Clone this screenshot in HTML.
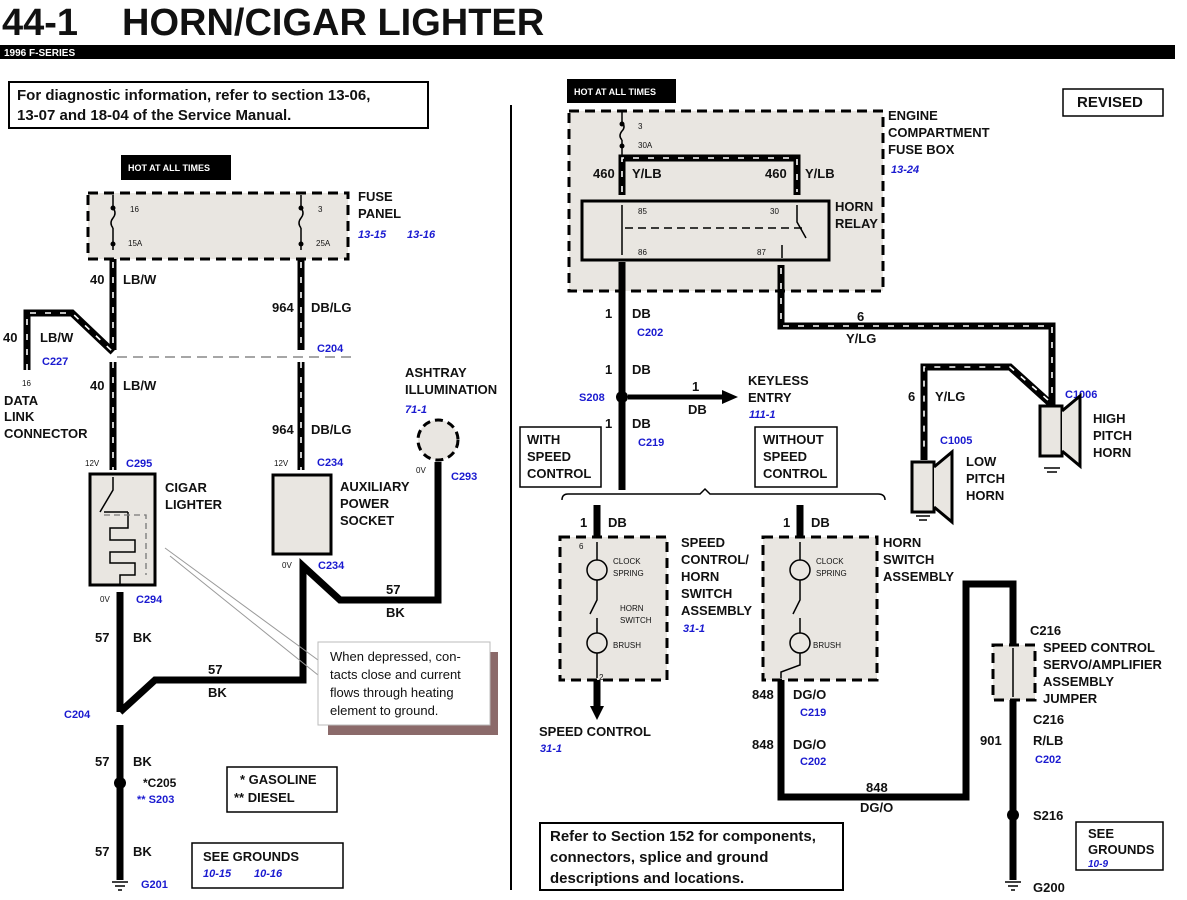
<!DOCTYPE html>
<html><head><meta charset="utf-8"><style>
body{margin:0;background:#fff}
svg{display:block}
text{font-family:"Liberation Sans",Arial,sans-serif;font-weight:bold;fill:#111}
.l{font-size:13px}
.s{font-size:8px;font-weight:normal}
.b{fill:#1a1ad0;font-style:italic;font-size:11px}
.c{fill:#1a1ad0;font-size:11px}
.w{stroke:#000;stroke-width:7;fill:none;stroke-linejoin:miter}
.st{stroke:#fff;stroke-width:1.6;fill:none;stroke-dasharray:6 9}
.box{fill:#e9e6e1;stroke:#000;stroke-width:3}
.dbox{fill:#e9e6e1;stroke:#000;stroke-width:3;stroke-dasharray:10 6}
.t{stroke:#000;stroke-width:1.5;fill:none}
.u{stroke:#999;stroke-width:1}
</style></head><body>
<svg width="1187" height="900" viewBox="0 0 1187 900" xmlns="http://www.w3.org/2000/svg">
<text x="2" y="35" style="font-size:38px">44-1</text>
<text x="122" y="35" style="font-size:38px">HORN/CIGAR LIGHTER</text>
<rect x="0" y="45" width="1175" height="14" fill="#000"/>
<text x="4" y="56" style="font-size:10px;fill:#fff">1996 F-SERIES</text>
<line x1="511" y1="105" x2="511" y2="890" stroke="#000" stroke-width="2"/>

<rect x="9" y="82" width="419" height="46" fill="#fff" stroke="#000" stroke-width="2"/>
<text x="17" y="100" style="font-size:15px">For diagnostic information, refer to section 13-06,</text>
<text x="17" y="120" style="font-size:15px">13-07 and 18-04 of the Service Manual.</text>

<rect x="121" y="155" width="110" height="25" fill="#000"/>
<text x="128" y="171" style="font-size:9px;fill:#fff">HOT AT ALL TIMES</text>
<rect x="88" y="193" width="260" height="66" class="dbox"/>
<path d="M113 195 V208 M113 228 V250 M301 195 V208 M301 228 V250" class="t"/>
<path d="M113 208 q4 5 0 10 q-4 5 0 10 M301 208 q4 5 0 10 q-4 5 0 10" class="t"/>
<circle cx="113" cy="208" r="2.5"/><circle cx="113" cy="244" r="2.5"/><circle cx="301" cy="208" r="2.5"/><circle cx="301" cy="244" r="2.5"/>
<text x="130" y="212" class="s">16</text><text x="128" y="246" class="s">15A</text>
<text x="318" y="212" class="s">3</text><text x="316" y="246" class="s">25A</text>
<text x="358" y="201" class="l">FUSE</text><text x="358" y="218" class="l">PANEL</text>
<text x="358" y="238" class="b">13-15</text><text x="407" y="238" class="b">13-16</text>

<path d="M113 259 V350 M113 362 V470 M301 259 V350 M301 362 V470" class="w"/>
<path d="M113 262 V350 M113 362 V470 M301 262 V350 M301 362 V470" class="st"/>
<path d="M27 370 V313 H72 L113 352" class="w"/>
<path d="M27 370 V313 H72 L113 352" class="st"/>
<line x1="117" y1="357" x2="355" y2="357" stroke="#888" stroke-width="1.5" stroke-dasharray="10 6"/>
<text x="90" y="284" class="l">40</text><text x="123" y="284" class="l">LB/W</text>
<text x="3" y="342" class="l">40</text><text x="40" y="342" class="l">LB/W</text><text x="42" y="365" class="c">C227</text>
<text x="22" y="386" class="s">16</text>
<text x="4" y="405" class="l">DATA</text><text x="4" y="421" class="l">LINK</text><text x="4" y="438" class="l">CONNECTOR</text>
<text x="90" y="390" class="l">40</text><text x="123" y="390" class="l">LB/W</text>
<text x="272" y="312" class="l">964</text><text x="311" y="312" class="l">DB/LG</text>
<text x="317" y="352" class="c">C204</text>
<text x="272" y="434" class="l">964</text><text x="311" y="434" class="l">DB/LG</text>
<text x="85" y="466" class="s">12V</text><text x="126" y="467" class="c">C295</text>
<text x="274" y="466" class="s">12V</text><text x="317" y="466" class="c">C234</text>

<rect x="90" y="474" width="65" height="111" class="box"/>
<path d="M113 477 V490 L100 512 M104 512 L128 512 M128 512 V528 H110 V540 H135 V552 H110 V563 H135 V575 H120 V585" class="t"/>
<path d="M104 515 H146 V575" stroke="#777" stroke-width="1.3" fill="none" stroke-dasharray="6 4"/>
<text x="165" y="492" class="l">CIGAR</text><text x="165" y="509" class="l">LIGHTER</text>
<rect x="273" y="475" width="58" height="79" class="box"/>
<text x="340" y="491" class="l">AUXILIARY</text><text x="340" y="508" class="l">POWER</text><text x="340" y="525" class="l">SOCKET</text>
<text x="405" y="377" class="l">ASHTRAY</text><text x="405" y="394" class="l">ILLUMINATION</text>
<text x="405" y="413" class="b">71-1</text>
<circle cx="438" cy="440" r="20" fill="#e9e6e1" stroke="#000" stroke-width="3" stroke-dasharray="8 5"/>
<text x="416" y="473" class="s">0V</text><text x="451" y="480" class="c">C293</text>
<text x="282" y="568" class="s">0V</text><text x="318" y="569" class="c">C234</text>
<text x="100" y="602" class="s">0V</text><text x="136" y="603" class="c">C294</text>

<path d="M438 462 V600 H340 L303 566 V680 H155 L120 712 M120 592 V712 M120 725 V880" class="w"/>
<circle cx="120" cy="783" r="6"/>
<text x="386" y="594" class="l">57</text><text x="386" y="617" class="l">BK</text>
<text x="95" y="642" class="l">57</text><text x="133" y="642" class="l">BK</text>
<text x="208" y="674" class="l">57</text><text x="208" y="697" class="l">BK</text>
<text x="64" y="718" class="c">C204</text>
<text x="95" y="766" class="l">57</text><text x="133" y="766" class="l">BK</text>
<text x="143" y="787" class="l" style="font-size:12px">*C205</text>
<text x="137" y="803" class="c">** S203</text>
<text x="95" y="856" class="l">57</text><text x="133" y="856" class="l">BK</text>
<path d="M112 882 H128 M115 886 H125 M118 890 H122" class="t"/>
<text x="141" y="888" class="c">G201</text>
<line x1="165" y1="548" x2="318" y2="660" class="u"/><line x1="170" y1="556" x2="318" y2="675" class="u"/>
<rect x="328" y="652" width="170" height="83" fill="#8b6a6a"/>
<rect x="318" y="642" width="172" height="83" fill="#fff" stroke="#bbb"/>
<text x="330" y="661" style="font-size:13px;font-weight:normal">When depressed, con-</text>
<text x="330" y="679" style="font-size:13px;font-weight:normal">tacts close and current</text>
<text x="330" y="697" style="font-size:13px;font-weight:normal">flows through heating</text>
<text x="330" y="715" style="font-size:13px;font-weight:normal">element to ground.</text>
<rect x="227" y="767" width="110" height="45" fill="#fff" stroke="#000" stroke-width="1.5"/>
<text x="240" y="784" class="l">*  GASOLINE</text><text x="234" y="802" class="l">**  DIESEL</text>
<rect x="192" y="843" width="151" height="45" fill="#fff" stroke="#000" stroke-width="1.5"/>
<text x="203" y="861" class="l">SEE GROUNDS</text>
<text x="203" y="877" class="b">10-15</text><text x="254" y="877" class="b">10-16</text>

<rect x="567" y="79" width="109" height="24" fill="#000"/>
<text x="574" y="95" style="font-size:9px;fill:#fff">HOT AT ALL TIMES</text>
<rect x="1063" y="89" width="100" height="27" fill="#fff" stroke="#000" stroke-width="1.5"/>
<text x="1077" y="107" class="l" style="font-size:15px">REVISED</text>
<rect x="569" y="111" width="314" height="180" class="dbox"/>
<path d="M622 112 V122 M622 140 V157" class="t"/><path d="M622 122 q4 5 0 9 q-4 5 0 9" class="t"/>
<circle cx="622" cy="124" r="2.5"/><circle cx="622" cy="146" r="2.5"/>
<text x="638" y="129" class="s">3</text><text x="638" y="148" class="s">30A</text>
<path d="M622 195 V158 H797 V195" class="w"/><path d="M622 192 V158 H797 V192" class="st"/>
<text x="593" y="178" class="l">460</text><text x="632" y="178" class="l">Y/LB</text>
<text x="765" y="178" class="l">460</text><text x="805" y="178" class="l">Y/LB</text>
<text x="888" y="120" class="l">ENGINE</text><text x="888" y="137" class="l">COMPARTMENT</text><text x="888" y="154" class="l">FUSE BOX</text>
<text x="891" y="173" class="b">13-24</text>
<rect x="582" y="201" width="247" height="59" class="box"/>
<path d="M622 205 V255 M797 205 V222 L806 238 M782 245 V258" class="t"/>
<line x1="625" y1="228" x2="806" y2="228" stroke="#000" stroke-width="1.5" stroke-dasharray="8 5"/>
<text x="638" y="214" class="s">85</text><text x="638" y="255" class="s">86</text>
<text x="770" y="214" class="s">30</text><text x="757" y="255" class="s">87</text>
<text x="835" y="211" class="l">HORN</text><text x="835" y="228" class="l">RELAY</text>

<path d="M622 262 V490" class="w"/>
<path d="M781 265 V326 H1052 V405 M1052 405 L1010 367 H924 V460" class="w"/>
<path d="M781 268 V326 H1052 V400 M1048 400 L1010 367 H924 V455" class="st"/>
<circle cx="622" cy="397" r="6"/>
<path d="M628 397 H725" stroke="#000" stroke-width="5"/><path d="M722 390 L738 397 L722 404Z"/>
<text x="605" y="318" class="l">1</text><text x="632" y="318" class="l">DB</text><text x="637" y="336" class="c">C202</text>
<text x="605" y="374" class="l">1</text><text x="632" y="374" class="l">DB</text>
<text x="579" y="401" class="c">S208</text>
<text x="692" y="391" class="l">1</text><text x="688" y="414" class="l">DB</text>
<text x="748" y="385" class="l">KEYLESS</text><text x="748" y="402" class="l">ENTRY</text><text x="749" y="418" class="b">111-1</text>
<text x="605" y="428" class="l">1</text><text x="632" y="428" class="l">DB</text><text x="638" y="446" class="c">C219</text>
<text x="857" y="321" class="l">6</text><text x="846" y="343" class="l">Y/LG</text>
<text x="908" y="401" class="l">6</text><text x="935" y="401" class="l">Y/LG</text>
<text x="1065" y="398" class="c">C1006</text><text x="940" y="444" class="c">C1005</text>
<rect x="1040" y="406" width="22" height="50" class="box"/><path d="M1062 411 L1080 396 V466 L1062 451" class="box"/>
<rect x="912" y="462" width="22" height="50" class="box"/><path d="M934 467 L952 452 V522 L934 507" class="box"/>
<path d="M1044 468 H1060 M1047 472 H1057 M916 516 H930 M919 520 H927" class="t"/>
<text x="1093" y="423" class="l">HIGH</text><text x="1093" y="440" class="l">PITCH</text><text x="1093" y="457" class="l">HORN</text>
<text x="966" y="466" class="l">LOW</text><text x="966" y="483" class="l">PITCH</text><text x="966" y="500" class="l">HORN</text>

<rect x="520" y="427" width="81" height="60" fill="#fff" stroke="#000" stroke-width="1.5"/>
<text x="527" y="444" class="l">WITH</text><text x="527" y="461" class="l">SPEED</text><text x="527" y="478" class="l">CONTROL</text>
<rect x="755" y="427" width="82" height="60" fill="#fff" stroke="#000" stroke-width="1.5"/>
<text x="763" y="444" class="l">WITHOUT</text><text x="763" y="461" class="l">SPEED</text><text x="763" y="478" class="l">CONTROL</text>
<path d="M562 500 Q562 494 568 494 H700 L705 489 L710 494 H878 Q885 494 885 500" class="t"/>

<path d="M597 505 V540 M800 505 V540 M597 680 V708 M781 680 V797 H966 V584 H1013 V645 M1013 700 V880" class="w"/>
<path d="M590 706 L597 720 L604 706Z"/>
<rect x="560" y="537" width="107" height="143" class="dbox"/>
<rect x="763" y="537" width="114" height="143" class="dbox"/>
<circle cx="597" cy="570" r="10" fill="#fff" class="t"/><circle cx="597" cy="643" r="10" fill="#fff" class="t"/>
<circle cx="800" cy="570" r="10" fill="#fff" class="t"/><circle cx="800" cy="643" r="10" fill="#fff" class="t"/>
<path d="M597 542 V560 M597 580 V600 L590 614 M597 618 V633 M597 653 V678 M800 542 V560 M800 580 V600 L793 614 M800 618 V633 M800 653 V665 L781 672 V678" class="t"/>
<text x="579" y="549" class="s">6</text><text x="599" y="680" class="s">2</text>
<text x="613" y="564" class="s">CLOCK</text><text x="613" y="576" class="s">SPRING</text>
<text x="620" y="611" class="s">HORN</text><text x="620" y="623" class="s">SWITCH</text><text x="613" y="648" class="s">BRUSH</text>
<text x="816" y="564" class="s">CLOCK</text><text x="816" y="576" class="s">SPRING</text><text x="813" y="648" class="s">BRUSH</text>
<text x="580" y="527" class="l">1</text><text x="608" y="527" class="l">DB</text>
<text x="783" y="527" class="l">1</text><text x="811" y="527" class="l">DB</text>
<text x="681" y="547" class="l">SPEED</text><text x="681" y="564" class="l">CONTROL/</text><text x="681" y="581" class="l">HORN</text><text x="681" y="598" class="l">SWITCH</text><text x="681" y="615" class="l">ASSEMBLY</text>
<text x="683" y="632" class="b">31-1</text>
<text x="883" y="547" class="l">HORN</text><text x="883" y="564" class="l">SWITCH</text><text x="883" y="581" class="l">ASSEMBLY</text>
<text x="539" y="736" class="l">SPEED CONTROL</text><text x="540" y="752" class="b">31-1</text>
<text x="752" y="699" class="l">848</text><text x="793" y="699" class="l">DG/O</text><text x="800" y="716" class="c">C219</text>
<text x="752" y="749" class="l">848</text><text x="793" y="749" class="l">DG/O</text><text x="800" y="765" class="c">C202</text>
<text x="866" y="792" class="l">848</text><text x="860" y="812" class="l">DG/O</text>
<rect x="993" y="645" width="42" height="55" class="dbox"/>
<path d="M1013 648 V697" class="t"/>
<text x="1030" y="635" class="l">C216</text>
<text x="1043" y="652" class="l">SPEED CONTROL</text><text x="1043" y="669" class="l">SERVO/AMPLIFIER</text><text x="1043" y="686" class="l">ASSEMBLY</text><text x="1043" y="703" class="l">JUMPER</text>
<text x="1033" y="724" class="l">C216</text>
<text x="980" y="745" class="l">901</text><text x="1033" y="745" class="l">R/LB</text><text x="1035" y="763" class="c">C202</text>
<circle cx="1013" cy="815" r="6"/><text x="1033" y="820" class="l">S216</text>
<path d="M1005 882 H1021 M1008 886 H1018 M1011 890 H1015" class="t"/>
<text x="1033" y="892" class="l">G200</text>
<rect x="1076" y="822" width="87" height="48" fill="#fff" stroke="#000" stroke-width="1.5"/>
<text x="1088" y="838" class="l">SEE</text><text x="1088" y="854" class="l">GROUNDS</text><text x="1088" y="867" class="b" style="font-size:10px">10-9</text>
<rect x="540" y="823" width="303" height="67" fill="#fff" stroke="#000" stroke-width="2"/>
<text x="550" y="841" style="font-size:15px">Refer to Section 152 for components,</text>
<text x="550" y="862" style="font-size:15px">connectors, splice and ground</text>
<text x="550" y="883" style="font-size:15px">descriptions and locations.</text>
</svg>
</body></html>
